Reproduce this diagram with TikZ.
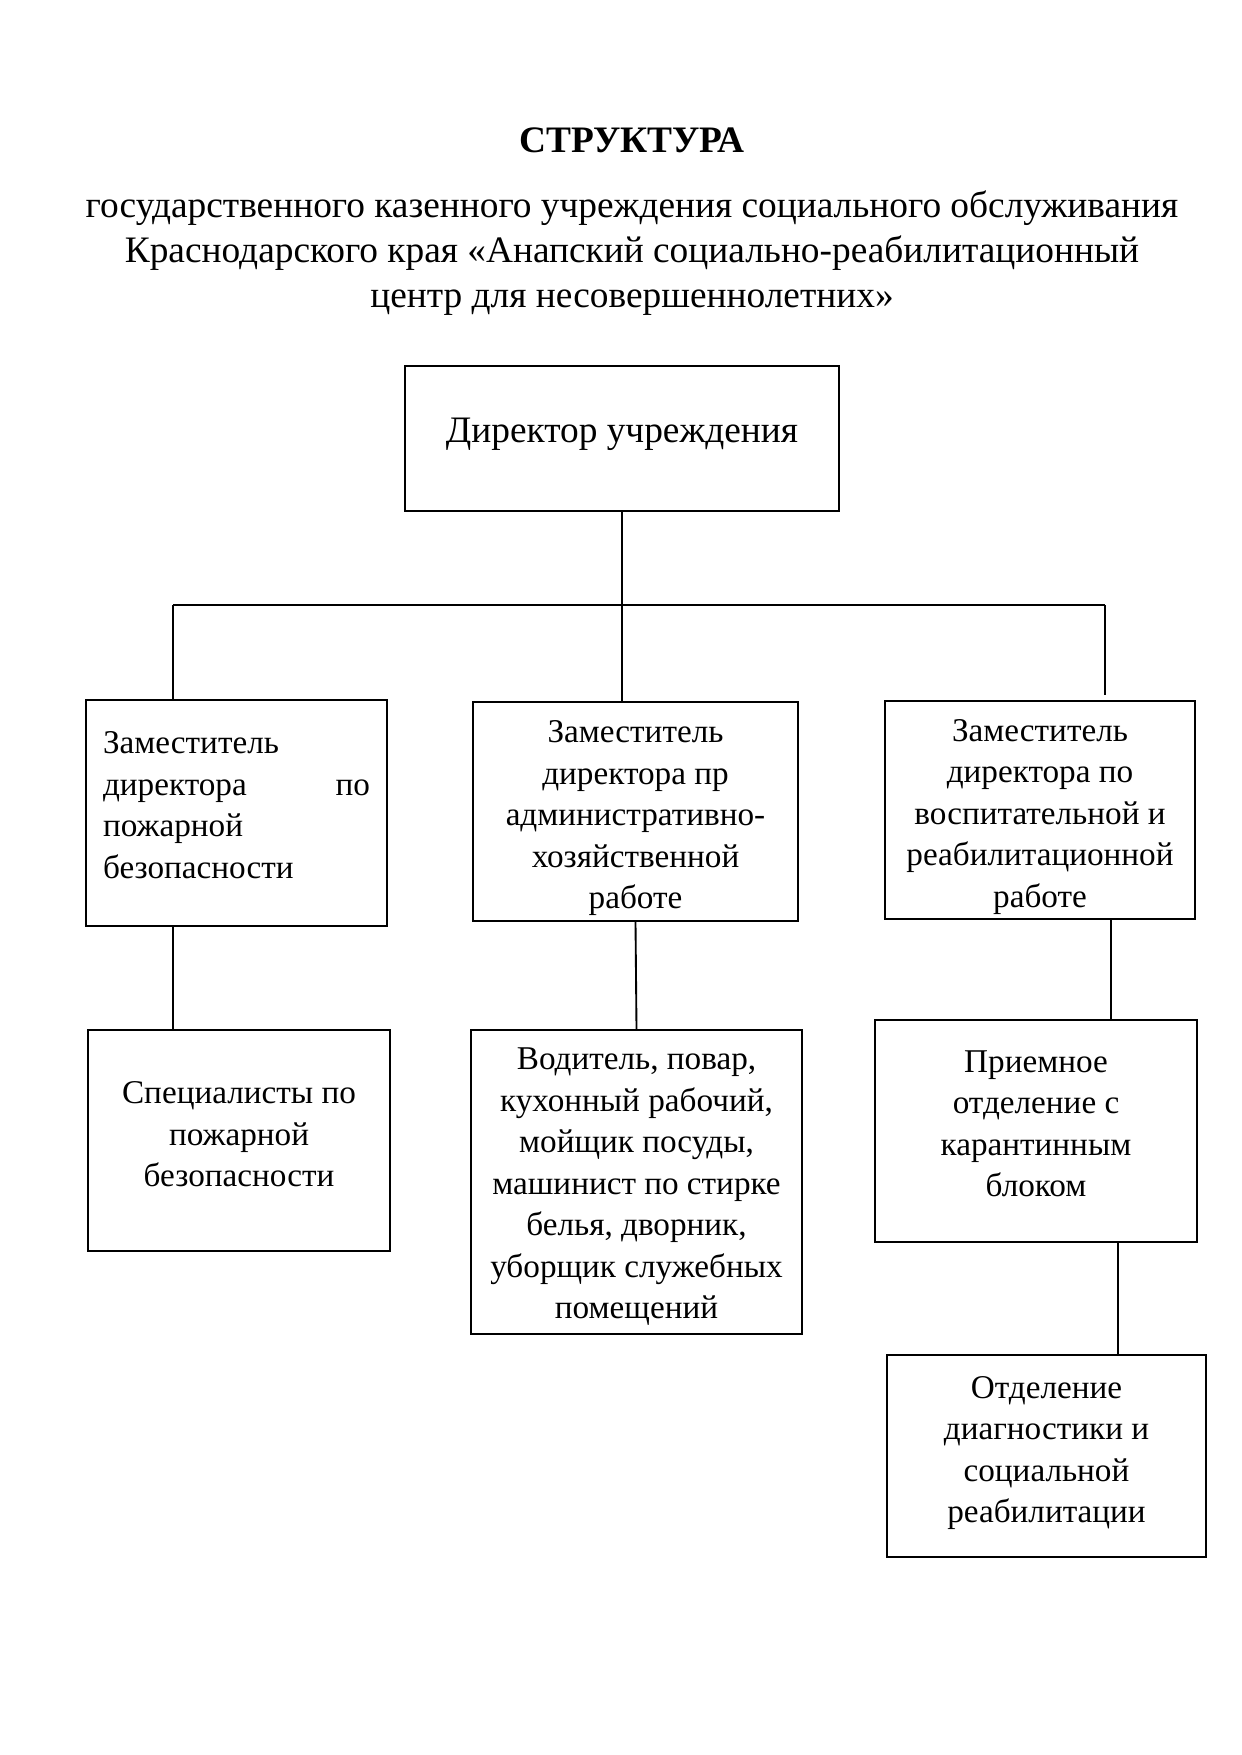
\documentclass[tikz,border=0pt]{standalone}
\usepackage{fontspec}
\setmainfont{Liberation Serif}
\usetikzlibrary{calc}
\tikzset{
  box/.style={draw, line width=0.9pt, rectangle, inner sep=0pt},
  txt/.style={inner sep=0pt, align=center, font=\fontsize{16}{20}\selectfont},
  conn/.style={draw, line width=0.9pt},
}
\begin{document}
\begin{tikzpicture}[x=0.4818pt, y=-0.4818pt]
\useasboundingbox[fill=white] (0,0) rectangle (1241,1755);
% titles
\node (title) at (632,140) {\fontsize{18}{22}\selectfont\bfseries СТРУКТУРА};
\node (sub) [align=center, font=\fontsize{18}{21.5}\selectfont] at (632,253)
  {государственного казенного учреждения социального обслуживания\\
   Краснодарского края «Анапский социально-реабилитационный\\
   центр для несовершеннолетних»};
% boxes
\node (dir) [box, minimum width=209.1pt, minimum height=69.9pt] at (622,438.5) {};
\node (b1) [box, minimum width=145.0pt, minimum height=108.9pt] at (236.5,813) {};
\node (b2) [box, minimum width=156.6pt, minimum height=105.5pt] at (635.5,811.5) {};
\node (b3) [box, minimum width=149.4pt, minimum height=105.0pt] at (1040,810) {};
\node (b4) [box, minimum width=145.5pt, minimum height=106.5pt] at (239,1140.5) {};
\node (b5) [box, minimum width=159.5pt, minimum height=146.5pt] at (636.5,1182) {};
\node (b6) [box, minimum width=155.1pt, minimum height=107.0pt] at (1036,1131) {};
\node (b7) [box, minimum width=153.7pt, minimum height=97.3pt] at (1046.5,1456) {};
% texts
\node (dirt) [txt, font=\fontsize{18}{22}\selectfont] at ($(dir.center)+(0,-4.5)$) {Директор учреждения};
\node (b1t) [txt, text width=128.6pt, align=left] at ($(b1.center)+(0,-8)$)
  {Заместитель\\ директора\hfill по\\ пожарной\\ безопасности};
\node (b2t) [txt] at ($(b2.center)+(0,6.7)$)
  {Заместитель\\ директора пр\\ административно-\\ хозяйственной\\ работе};
\node (b3t) [txt] at ($(b3.center)+(0,6.7)$)
  {Заместитель\\ директора по\\ воспитательной и\\ реабилитационной\\ работе};
\node (b4t) [txt] at ($(b4.center)+(0,-6)$)
  {Специалисты по\\ пожарной\\ безопасности};
\node (b5t) [txt] at ($(b5.center)+(0,5)$)
  {Водитель, повар,\\ кухонный рабочий,\\ мойщик посуды,\\ машинист по стирке\\ белья, дворник,\\ уборщик служебных\\ помещений};
\node (b6t) [txt] at ($(b6.center)+(0,-7)$)
  {Приемное\\ отделение с\\ карантинным\\ блоком};
\node (b7t) [txt] at ($(b7.center)+(0,-3)$)
  {Отделение\\ диагностики и\\ социальной\\ реабилитации};
% connectors
\coordinate (hl) at (173,605);
\coordinate (hr) at (1105,605);
\coordinate (rend) at (1105,695);
\draw[conn] (dir.south) -- (dir.south |- b2.north);
\draw[conn] (hl) -- (hr);
\draw[conn] (hl) -- (hl |- b1.north);
\draw[conn] (hr) -- (rend);
\draw[conn] (hl |- b1.south) -- (hl |- b4.north);
\draw[conn] (b2.south) -- (b5.north);
\draw[conn] ($(b3.south)+(71,0)$) -- ($(b6.north)+(75,0)$);
\draw[conn] ($(b6.south)+(82,0)$) -- ($(b7.north)+(71.5,0)$);
\end{tikzpicture}
\end{document}
